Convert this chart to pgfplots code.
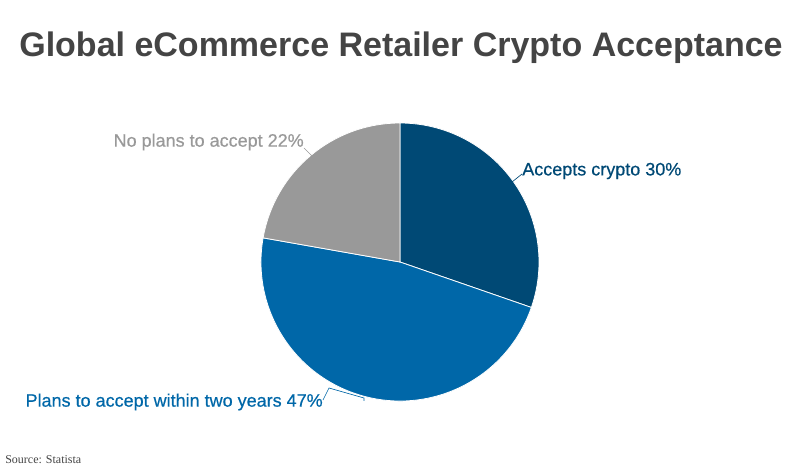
\documentclass[border=0pt]{standalone}
\usepackage{pgfplots}
\pgfplotsset{compat=1.18}
\usepackage{pgfplotstable}
\usepackage{fontspec}
\setmainfont{Liberation Sans}
\newfontfamily\srcfont{Liberation Serif}
\newfontfamily\lblfont[FakeBold=0.6]{Liberation Sans}

\definecolor{acceptblue}{RGB}{0,73,117}
\definecolor{planblue}{RGB}{0,103,168}
\definecolor{noplangray}{RGB}{153,153,153}
\definecolor{titlegray}{RGB}{68,68,68}

% shares in percent (as published, they add to 99)
\pgfplotstableread{
group share
Accepts 30
Plans 47
NoPlans 22
}\sharetable

\begin{document}
\begin{tikzpicture}
\pgfplotstablegetelem{0}{share}\of\sharetable \let\va\pgfplotsretval
\pgfplotstablegetelem{1}{share}\of\sharetable \let\vb\pgfplotsretval
\pgfplotstablegetelem{2}{share}\of\sharetable \let\vc\pgfplotsretval
\pgfmathsetmacro{\tot}{\va+\vb+\vc}
\pgfmathsetmacro{\aA}{90-\va/\tot*360}
\pgfmathsetmacro{\aB}{\aA-\vb/\tot*360}
\pgfmathsetmacro{\aC}{\aB-\vc/\tot*360}
\def\R{104.25pt}
\begin{axis}[
    scale only axis,
    width=600pt, height=354.75pt,
    xmin=0, xmax=800, ymin=0, ymax=473,
    y dir=reverse,
    hide axis, clip=false,
    ]
    % slices
    \fill[acceptblue, draw=white, line width=0.6pt]
        (axis cs:400,262) -- ++(90:\R) arc[start angle=90, end angle=\aA, radius=\R] -- cycle;
    \fill[planblue, draw=white, line width=0.6pt]
        (axis cs:400,262) -- ++(\aA:\R) arc[start angle=\aA, end angle=\aB, radius=\R] -- cycle;
    \fill[noplangray, draw=white, line width=0.6pt]
        (axis cs:400,262) -- ++(\aB:\R) arc[start angle=\aB, end angle=\aC, radius=\R] -- cycle;

    % leaders
    \draw[acceptblue, line width=0.5pt] (axis cs:512,182) -- (axis cs:522,174);
    \draw[noplangray, line width=0.5pt] (axis cs:304,148) -- (axis cs:316,160);
    \draw[planblue, line width=0.5pt] (axis cs:323,400) -- (axis cs:329,388) -- (axis cs:364,398) -- (axis cs:364,401);

    % labels
    \node[anchor=west, inner sep=0pt, text=acceptblue, font=\lblfont\fontsize{13.5}{16}\selectfont]
        at (axis cs:522,171) {Accepts crypto \va\%};
    \node[anchor=east, inner sep=0pt, text=noplangray, font=\lblfont\fontsize{13.5}{16}\selectfont]
        at (axis cs:304,142) {No plans to accept \vc\%};
    \node[anchor=east, inner sep=0pt, text=planblue, font=\lblfont\fontsize{13.5}{16}\selectfont]
        at (axis cs:323,402) {Plans to accept within two years \vb\%};

    % title and source
    \node[inner sep=0pt, text=titlegray, font=\bfseries\fontsize{25.5}{30}\selectfont]
        at (axis cs:401,48) {Global eCommerce Retailer Crypto Acceptance};
    \node[anchor=west, inner sep=0pt, text=titlegray, font=\srcfont\fontsize{9}{11}\selectfont]
        at (axis cs:5,460) {Source: Statista};
\end{axis}
\pgfresetboundingbox
\path[use as bounding box] (current axis.south west) rectangle (current axis.north east);
\end{tikzpicture}
\end{document}
